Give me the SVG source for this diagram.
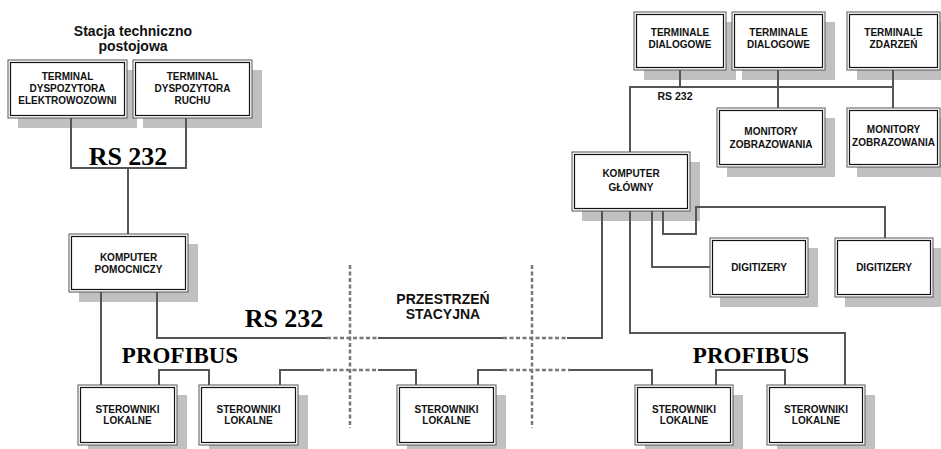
<svg xmlns="http://www.w3.org/2000/svg" width="941" height="449" viewBox="0 0 941 449">
<style>
.sh{fill:#c0c0c0;stroke:none}
.bo{fill:#fff;stroke:#555;stroke-width:1}
.bi{fill:none;stroke:#111;stroke-width:1.2}
.t{font-family:"Liberation Sans",Arial,sans-serif;font-weight:bold;font-size:10px;fill:#111;text-anchor:middle}
.big{font-family:"Liberation Serif","Times New Roman",serif;font-weight:bold;fill:#000;text-anchor:middle}
.ln{fill:none;stroke:#555;stroke-width:2}
.ds{fill:none;stroke:#777;stroke-width:2.5;stroke-dasharray:4 2.5}
.lbl{font-family:"Liberation Sans",Arial,sans-serif;font-weight:bold;fill:#111;text-anchor:middle}
</style>
<rect width="941" height="449" fill="#fff"/>

<g id="shadows">
<rect class="sh" x="18" y="70" width="119" height="58"/>
<rect class="sh" x="143" y="70" width="119" height="58"/>
<rect class="sh" x="79" y="244" width="119" height="58"/>
<rect class="sh" x="88" y="395" width="99" height="60"/>
<rect class="sh" x="209" y="395" width="99" height="60"/>
<rect class="sh" x="407" y="395" width="99" height="60"/>
<rect class="sh" x="645" y="395" width="98" height="60"/>
<rect class="sh" x="777" y="395" width="98" height="60"/>
<rect class="sh" x="644" y="22" width="92" height="58"/>
<rect class="sh" x="742" y="22" width="93" height="58"/>
<rect class="sh" x="857" y="22" width="93" height="58"/>
<rect class="sh" x="727" y="118" width="108" height="59"/>
<rect class="sh" x="857" y="118" width="93" height="59"/>
<rect class="sh" x="582" y="162" width="118" height="59"/>
<rect class="sh" x="720" y="248" width="98" height="59"/>
<rect class="sh" x="845" y="248" width="98" height="59"/>
</g>

<g id="connectors">
<path class="ln" d="M71 118V168H186V118M128 168V234"/>
<path class="ln" d="M101 292V385"/>
<path class="ln" d="M157 292V338H327M378 338H503M567 338H602V211"/>
<path class="ds" d="M327 338H378M503 338H567"/>
<path class="ln" d="M159 385V370H209V385"/>
<path class="ln" d="M280 385V370H320M378 370H416V385"/>
<path class="ds" d="M320 370H378"/>
<path class="ln" d="M478 385V370H503M570 370H652V385"/>
<path class="ds" d="M503 370H570"/>
<path class="ln" d="M716 385V370H785V385"/>
<path class="ln" d="M630 211V333H845V385"/>
<path class="ln" d="M652 211V267H710"/>
<path class="ln" d="M663 211V234H696V207H885V238"/>
<path class="ln" d="M630 152V87H893M680 70V87M778 70V108M893 70V108"/>
<path class="ds" d="M350 265V428M532 265V428"/>
</g>

<g id="labels">
<text class="lbl" font-size="14" x="133" y="36">Stacja techniczno</text>
<text class="lbl" font-size="14" x="133" y="51">postojowa</text>
<text class="big" font-size="26" x="128" y="165">RS 232</text>
<text class="big" font-size="26" x="284" y="327">RS 232</text>
<text class="big" font-size="23" x="180" y="363">PROFIBUS</text>
<text class="big" font-size="23" x="751" y="363">PROFIBUS</text>
<text class="lbl" font-size="14" x="443" y="304">PRZESTRZEŃ</text>
<text class="lbl" font-size="14" x="443" y="319">STACYJNA</text>
<text class="lbl" font-size="10.5" x="675" y="100">RS 232</text>
</g>

<g id="terminal-elektrowozowni">
<rect class="bo" x="8" y="60" width="119" height="58"/><rect class="bi" x="10.5" y="62.5" width="114" height="53"/>
<text class="t" x="67.5" y="80">TERMINAL</text><text class="t" x="67.5" y="92">DYSPOZYTORA</text><text class="t" x="67.5" y="104">ELEKTROWOZOWNI</text>
</g>
<g id="terminal-ruchu">
<rect class="bo" x="133" y="60" width="119" height="58"/><rect class="bi" x="135.5" y="62.5" width="114" height="53"/>
<text class="t" x="192.5" y="80">TERMINAL</text><text class="t" x="192.5" y="92">DYSPOZYTORA</text><text class="t" x="192.5" y="104">RUCHU</text>
</g>
<g id="komputer-pomocniczy">
<rect class="bo" x="69" y="234" width="119" height="58"/><rect class="bi" x="71.5" y="236.5" width="114" height="53"/>
<text class="t" x="128.5" y="261">KOMPUTER</text><text class="t" x="128.5" y="273">POMOCNICZY</text>
</g>
<g id="sterowniki-1">
<rect class="bo" x="78" y="385" width="99" height="60"/><rect class="bi" x="80.5" y="387.5" width="94" height="55"/>
<text class="t" x="127.5" y="413">STEROWNIKI</text><text class="t" x="127.5" y="424">LOKALNE</text>
</g>
<g id="sterowniki-2">
<rect class="bo" x="199" y="385" width="99" height="60"/><rect class="bi" x="201.5" y="387.5" width="94" height="55"/>
<text class="t" x="248.5" y="413">STEROWNIKI</text><text class="t" x="248.5" y="424">LOKALNE</text>
</g>
<g id="sterowniki-3">
<rect class="bo" x="397" y="385" width="99" height="60"/><rect class="bi" x="399.5" y="387.5" width="94" height="55"/>
<text class="t" x="446.5" y="413">STEROWNIKI</text><text class="t" x="446.5" y="424">LOKALNE</text>
</g>
<g id="sterowniki-4">
<rect class="bo" x="635" y="385" width="98" height="60"/><rect class="bi" x="637.5" y="387.5" width="93" height="55"/>
<text class="t" x="684" y="413">STEROWNIKI</text><text class="t" x="684" y="424">LOKALNE</text>
</g>
<g id="sterowniki-5">
<rect class="bo" x="767" y="385" width="98" height="60"/><rect class="bi" x="769.5" y="387.5" width="93" height="55"/>
<text class="t" x="816" y="413">STEROWNIKI</text><text class="t" x="816" y="424">LOKALNE</text>
</g>
<g id="terminale-dialogowe-1">
<rect class="bo" x="634" y="12" width="92" height="58"/><rect class="bi" x="636.5" y="14.5" width="87" height="53"/>
<text class="t" x="680" y="36">TERMINALE</text><text class="t" x="680" y="48">DIALOGOWE</text>
</g>
<g id="terminale-dialogowe-2">
<rect class="bo" x="732" y="12" width="93" height="58"/><rect class="bi" x="734.5" y="14.5" width="88" height="53"/>
<text class="t" x="778.5" y="36">TERMINALE</text><text class="t" x="778.5" y="48">DIALOGOWE</text>
</g>
<g id="terminale-zdarzen">
<rect class="bo" x="847" y="12" width="93" height="58"/><rect class="bi" x="849.5" y="14.5" width="88" height="53"/>
<text class="t" x="893.5" y="36">TERMINALE</text><text class="t" x="893.5" y="48">ZDARZEŃ</text>
</g>
<g id="monitory-1">
<rect class="bo" x="717" y="108" width="108" height="59"/><rect class="bi" x="719.5" y="110.5" width="103" height="54"/>
<text class="t" x="771" y="135">MONITORY</text><text class="t" x="771" y="148">ZOBRAZOWANIA</text>
</g>
<g id="monitory-2">
<rect class="bo" x="847" y="108" width="93" height="59"/><rect class="bi" x="849.5" y="110.5" width="88" height="54"/>
<text class="t" x="893.5" y="133">MONITORY</text><text class="t" x="893.5" y="146" font-size="11">ZOBRAZOWANIA</text>
</g>
<g id="komputer-glowny">
<rect class="bo" x="572" y="152" width="118" height="59"/><rect class="bi" x="574.5" y="154.5" width="113" height="54"/>
<text class="t" x="631" y="177">KOMPUTER</text><text class="t" x="631" y="191">GŁÓWNY</text>
</g>
<g id="digitizery-1">
<rect class="bo" x="710" y="238" width="98" height="59"/><rect class="bi" x="712.5" y="240.5" width="93" height="54"/>
<text class="t" x="759" y="271">DIGITIZERY</text>
</g>
<g id="digitizery-2">
<rect class="bo" x="835" y="238" width="98" height="59"/><rect class="bi" x="837.5" y="240.5" width="93" height="54"/>
<text class="t" x="884" y="271">DIGITIZERY</text>
</g>
</svg>
